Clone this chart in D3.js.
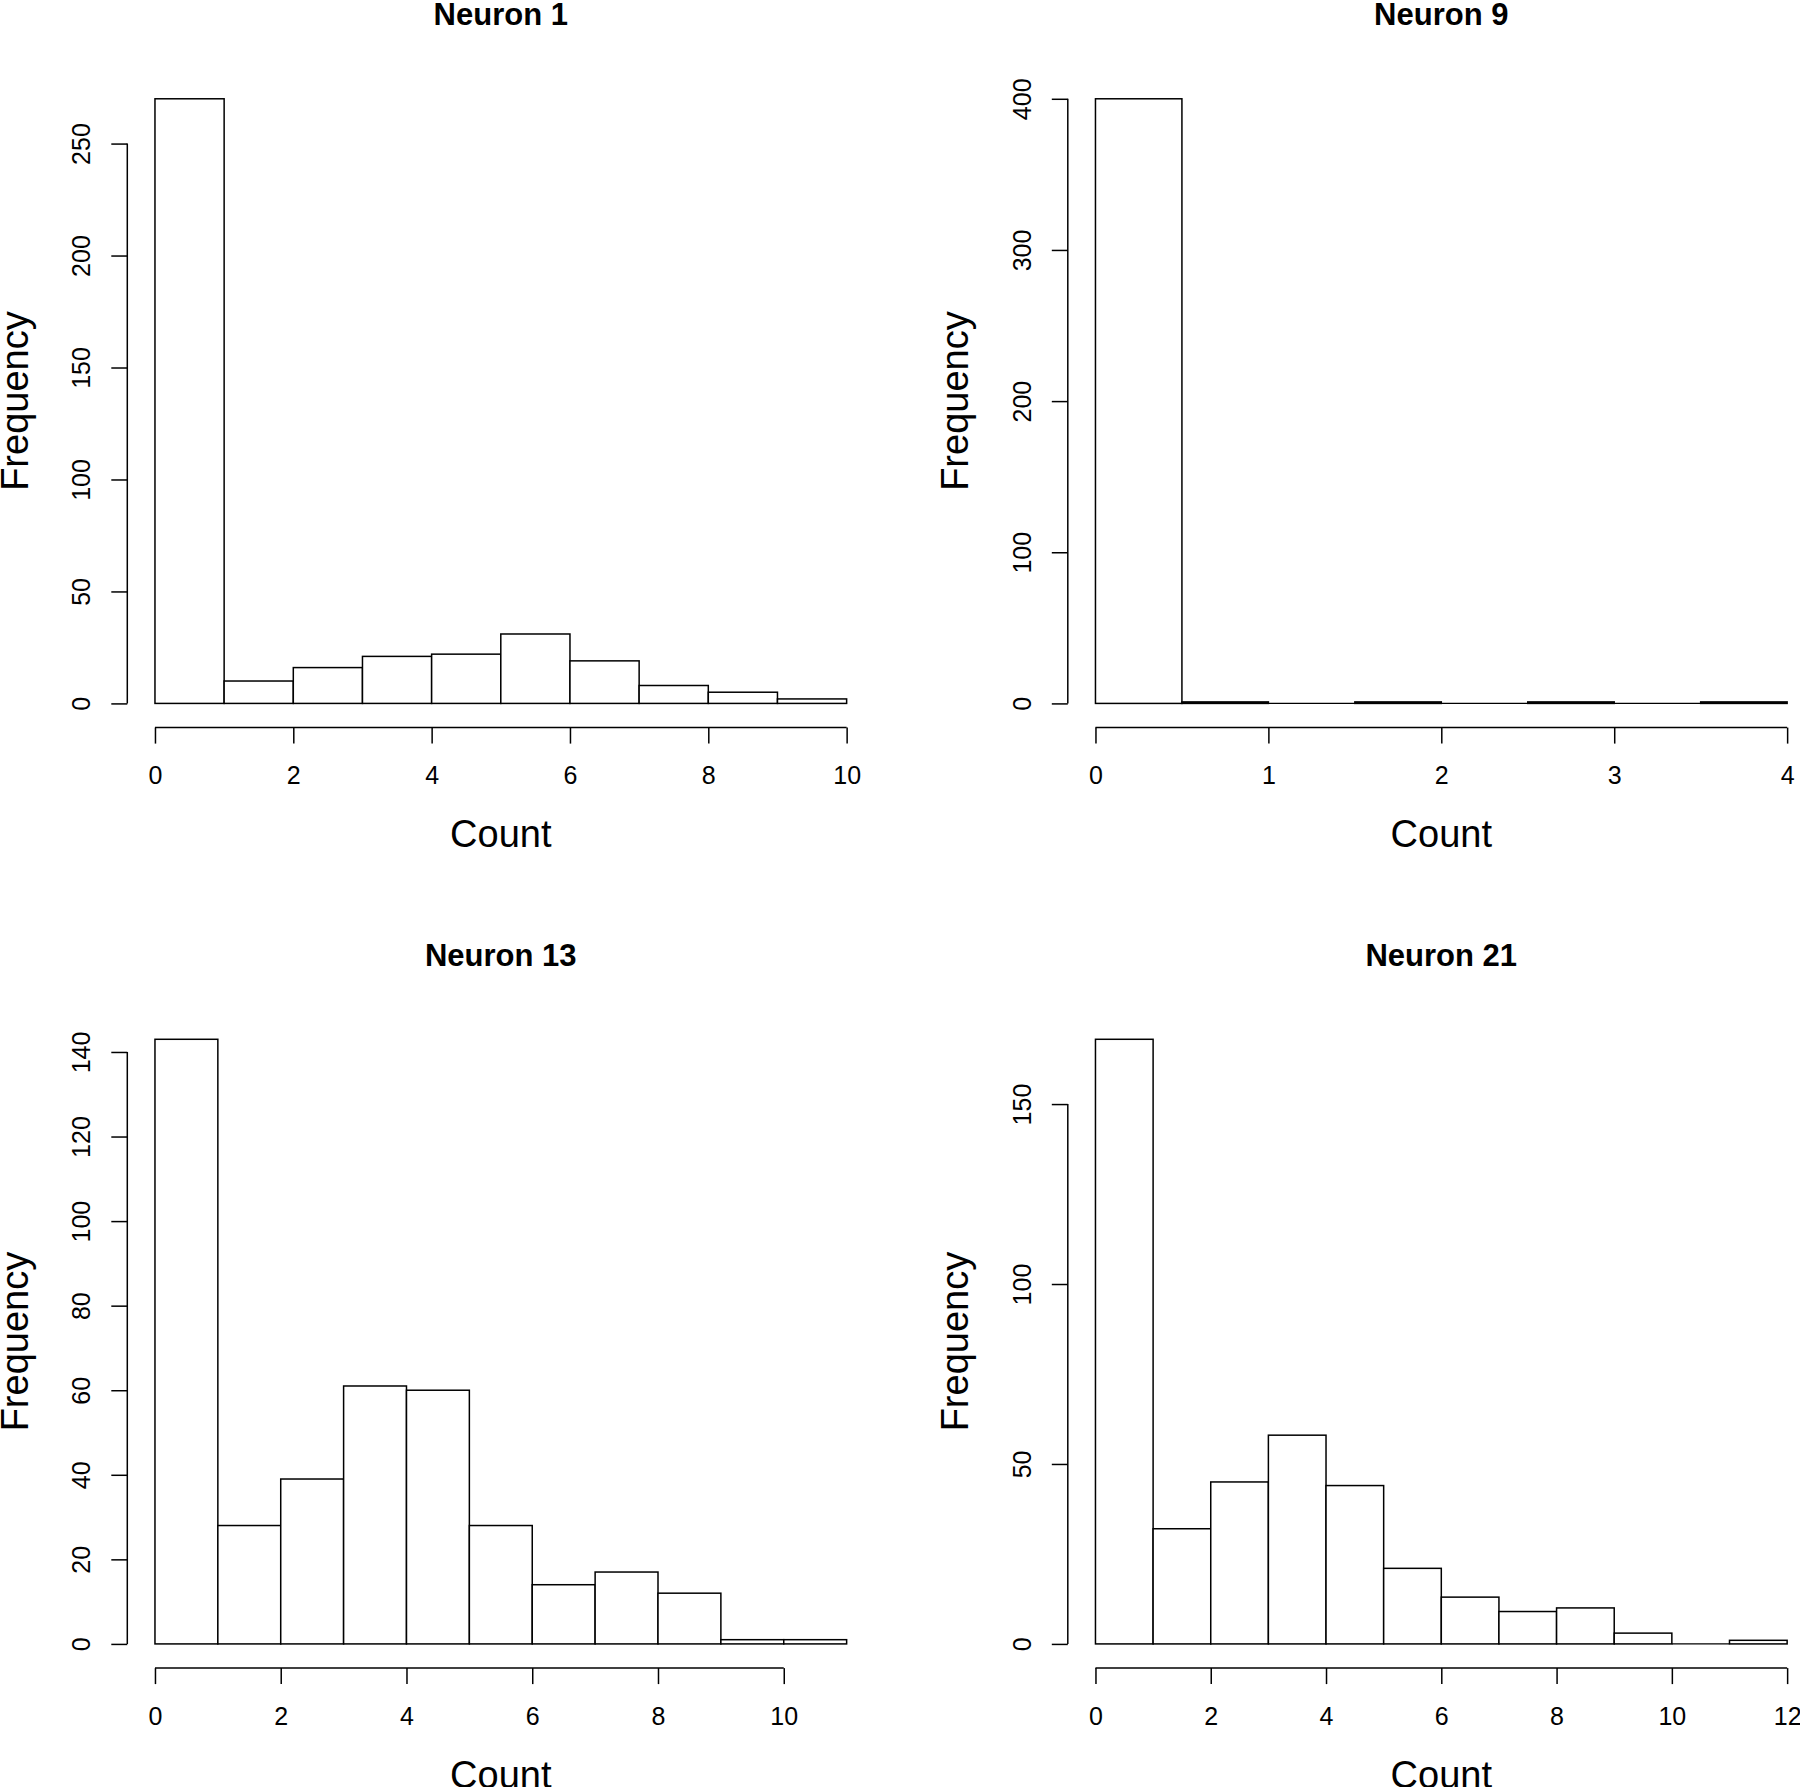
<!DOCTYPE html>
<html>
<head>
<meta charset="utf-8">
<script src="https://cdn.jsdelivr.net/npm/d3@7/dist/d3.min.js"></script>
<style>
  html, body { margin: 0; padding: 0; background: #ffffff; }
  svg { display: block; }
  text { font-family: "Liberation Sans", Arial, Helvetica, sans-serif; fill: #000; }
</style>
</head>
<body>
<svg id="chart" width="1800" height="1787"></svg>
<script>
// ---- Data ----
const panelTitles = ["Neuron 1", "Neuron 9", "Neuron 13", "Neuron 21"];

const neuron1Breaks = [0, 1, 2, 3, 4, 5, 6, 7, 8, 9, 10];
const neuron1Counts = [270, 10, 16, 21, 22, 31, 19, 8, 5, 2];

const neuron9Breaks = [0, 0.5, 1, 1.5, 2, 2.5, 3, 3.5, 4];
const neuron9Counts = [400, 1, 0, 1, 0, 1, 0, 1];

const neuron13Breaks = [0, 1, 2, 3, 4, 5, 6, 7, 8, 9, 10, 11];
const neuron13Counts = [143, 28, 39, 61, 60, 28, 14, 17, 12, 1, 1];

const neuron21Breaks = [0, 1, 2, 3, 4, 5, 6, 7, 8, 9, 10, 11, 12];
const neuron21Counts = [168, 32, 45, 58, 44, 21, 13, 9, 10, 3, 0, 1];

const neuron1XTicks = [0, 2, 4, 6, 8, 10];
const neuron9XTicks = [0, 1, 2, 3, 4];
const neuron13XTicks = [0, 2, 4, 6, 8, 10];
const neuron21XTicks = [0, 2, 4, 6, 8, 10, 12];

const neuron1YTicks = [0, 50, 100, 150, 200, 250];
const neuron9YTicks = [0, 100, 200, 300, 400];
const neuron13YTicks = [0, 20, 40, 60, 80, 100, 120, 140];
const neuron21YTicks = [0, 50, 100, 150];

const xLabel = "Count";
const yLabel = "Frequency";

// ---- Layout ----
const panels = [
  { title: panelTitles[0], breaks: neuron1Breaks, counts: neuron1Counts, xt: neuron1XTicks, yt: neuron1YTicks, col: 0, row: 0 },
  { title: panelTitles[1], breaks: neuron9Breaks, counts: neuron9Counts, xt: neuron9XTicks, yt: neuron9YTicks, col: 1, row: 0 },
  { title: panelTitles[2], breaks: neuron13Breaks, counts: neuron13Counts, xt: neuron13XTicks, yt: neuron13YTicks, col: 0, row: 1 },
  { title: panelTitles[3], breaks: neuron21Breaks, counts: neuron21Counts, xt: neuron21XTicks, yt: neuron21YTicks, col: 1, row: 1 }
];

const cellStep = 940.5;
const plotL = 127.3, plotR = 874.3, plotT = 74.6, plotB = 727.6;
const tickLen = 16;
const lw = 1.5;

const svg = d3.select("#chart");
svg.append("rect").attr("width", 1800).attr("height", 1787).attr("fill", "#fff");

panels.forEach(p => {
  const g = svg.append("g")
    .attr("transform", `translate(${p.col * cellStep},${p.row * cellStep})`);

  const xMin = p.breaks[0], xMax = p.breaks[p.breaks.length - 1];
  const xPad = 0.04 * (xMax - xMin);
  const yMax = d3.max(p.counts);
  const yPad = 0.04 * yMax;

  const x = d3.scaleLinear().domain([xMin - xPad, xMax + xPad]).range([plotL, plotR]);
  const y = d3.scaleLinear().domain([-yPad, yMax + yPad]).range([plotB, plotT]);

  // bars
  const bins = p.counts.map((c, i) => ({ x0: p.breaks[i], x1: p.breaks[i + 1], c }));
  g.selectAll("rect.bar").data(bins.filter(d => d.c > 0)).join("rect")
    .attr("class", "bar")
    .attr("x", d => x(d.x0))
    .attr("width", d => x(d.x1) - x(d.x0))
    .attr("y", d => y(d.c))
    .attr("height", d => y(0) - y(d.c))
    .attr("fill", "#fff")
    .attr("stroke", "#000")
    .attr("stroke-width", lw);
  // empty bins are drawn as flat outlines on the baseline (as R does)
  g.selectAll("line.empty").data(bins.filter(d => d.c === 0)).join("line")
    .attr("class", "empty")
    .attr("x1", d => x(d.x0)).attr("x2", d => x(d.x1))
    .attr("y1", y(0)).attr("y2", y(0))
    .attr("stroke", "#000")
    .attr("stroke-width", 1.1);

  // x axis (R style: line from first to last tick at bottom of plot region)
  const xAxisG = g.append("g").attr("transform", `translate(0,${plotB})`)
    .call(d3.axisBottom(x).tickValues(p.xt).tickSize(tickLen).tickSizeOuter(0).tickFormat(d3.format("d")));
  xAxisG.select(".domain").remove();
  xAxisG.append("line")
    .attr("x1", x(p.xt[0])).attr("x2", x(p.xt[p.xt.length - 1]))
    .attr("y1", 0).attr("y2", 0)
    .attr("stroke", "#000").attr("stroke-width", lw);
  xAxisG.selectAll(".tick line").attr("stroke", "#000").attr("stroke-width", lw);
  xAxisG.selectAll(".tick text")
    .attr("y", 56.7).attr("dy", 0)
    .attr("font-size", 25)
    .attr("font-family", "Liberation Sans, Arial, sans-serif")
    .attr("fill", "#000");

  // y axis
  const yAxisG = g.append("g").attr("transform", `translate(${plotL},0)`)
    .call(d3.axisLeft(y).tickValues(p.yt).tickSize(tickLen).tickSizeOuter(0).tickFormat(d3.format("d")));
  yAxisG.select(".domain").remove();
  yAxisG.append("line")
    .attr("x1", 0).attr("x2", 0)
    .attr("y1", y(p.yt[0])).attr("y2", y(p.yt[p.yt.length - 1]))
    .attr("stroke", "#000").attr("stroke-width", lw);
  yAxisG.selectAll(".tick line").attr("stroke", "#000").attr("stroke-width", lw);
  yAxisG.selectAll(".tick text")
    .attr("transform", "rotate(-90)")
    .attr("x", 0).attr("y", -37).attr("dy", 0)
    .attr("text-anchor", "middle")
    .attr("font-size", 25)
    .attr("font-family", "Liberation Sans, Arial, sans-serif")
    .attr("fill", "#000");

  // title
  g.append("text")
    .attr("x", (plotL + plotR) / 2).attr("y", 25)
    .attr("text-anchor", "middle")
    .attr("font-size", 31).attr("font-weight", "bold")
    .text(p.title);

  // x label
  g.append("text")
    .attr("x", (plotL + plotR) / 2).attr("y", 847)
    .attr("text-anchor", "middle")
    .attr("font-size", 38)
    .text(xLabel);

  // y label
  g.append("text")
    .attr("transform", `translate(27.5,${(plotT + plotB) / 2}) rotate(-90)`)
    .attr("text-anchor", "middle")
    .attr("font-size", 38)
    .text(yLabel);
});
</script>
</body>
</html>
